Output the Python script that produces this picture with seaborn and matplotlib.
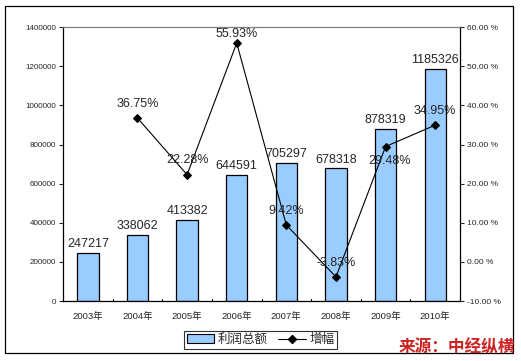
import numpy as np
import pandas as pd
import matplotlib
matplotlib.use('Agg')
import matplotlib.pyplot as plt
import seaborn as sns
from matplotlib.lines import Line2D
from matplotlib.patches import Patch, Rectangle

years = ['2003年', '2004年', '2005年', '2006年', '2007年', '2008年', '2009年', '2010年']
profit = [247217, 338062, 413382, 644591, 705297, 678318, 878319, 1185326]
growth = [np.nan, 36.75, 22.28, 55.93, 9.42, -3.83, 29.48, 34.95]
growth_labels = ['', '36.75%', '22.28%', '55.93%', '9.42%', '-3.83%', '29.48%', '34.95%']
# label above (+1) or below (-1) the point
label_side = [0, 1, 1, 1, 1, 1, -1, 1]

sns.set_style('white')
plt.rcParams['font.family'] = ['Liberation Sans', 'Noto Sans CJK SC', 'DejaVu Sans']

df = pd.DataFrame({'year': years, 'profit': profit, 'growth': growth})
df['pos'] = np.arange(len(df))

fig = plt.figure(figsize=(5.21, 3.61), dpi=100)
ax = fig.add_axes([0.121, 0.166, 0.762, 0.759])

sns.barplot(data=df, x='year', y='profit', color='#99CCFF', saturation=1,
            edgecolor='black', linewidth=0.9, width=0.43, ax=ax)
ax.set_ylim(0, 1400000)
ax.set_yticks(np.arange(0, 1400001, 200000))
ax.set_yticklabels([str(v) for v in np.arange(0, 1400001, 200000)], fontsize=5.8)
ax.set_xticklabels(years, fontsize=6.8)
ax.set_xlim(-0.5, len(df) - 0.5)
ax.set_xlabel('')
ax.set_ylabel('')
ax.tick_params(axis='y', length=3, width=0.8, pad=2, direction='out', left=True)
ax.tick_params(axis='x', length=0, pad=8)
for k in range(1, len(df)):
    ax.plot([k - 0.5, k - 0.5], [0, 12000], color='black', lw=0.8)
for s in ['left', 'bottom', 'right']:
    ax.spines[s].set_color('black')
    ax.spines[s].set_linewidth(0.9)
ax.spines['top'].set_color('#808080')
ax.spines['top'].set_linewidth(0.9)

for i, v in enumerate(profit):
    ax.annotate(str(v), (i, v), xytext=(0, 2), textcoords='offset points',
                ha='center', va='bottom', fontsize=9)

ax2 = ax.twinx()
sns.lineplot(data=df, x='pos', y='growth', color='black', lw=0.8, marker='D',
             markersize=4, markeredgecolor='black', ax=ax2)
ax2.set_ylim(-10, 60)
ax2.set_xlim(-0.5, len(df) - 0.5)
ax2.set_yticks(np.arange(-10, 61, 10))
ax2.set_yticklabels(['%.2f %%' % v for v in np.arange(-10, 61, 10)], fontsize=6)
ax2.set_ylabel('')
ax2.set_xlabel('')
ax2.tick_params(axis='y', length=3, width=0.8, pad=2, direction='out', right=True)
for s in ax2.spines.values():
    s.set_visible(False)

for i, (g, lab, side) in enumerate(zip(growth, growth_labels, label_side)):
    if not lab:
        continue
    if side > 0:
        off = 6 if g < 50 else 2
        ax2.annotate(lab, (i, g), xytext=(0, off), textcoords='offset points',
                     ha='center', va='bottom', fontsize=9)
    else:
        ax2.annotate(lab, (i, g), xytext=(3, -6), textcoords='offset points',
                     ha='center', va='top', fontsize=9)

handles = [Patch(facecolor='#99CCFF', edgecolor='black', linewidth=0.8),
           Line2D([0], [0], color='black', lw=0.8, marker='D', markersize=4)]
leg = fig.legend(handles, ['利润总额', '增幅'], loc='center', ncol=2,
                 bbox_to_anchor=(0.5, 0.058), fontsize=9, frameon=True,
                 fancybox=False, edgecolor='black', handlelength=2.2,
                 borderpad=0.2, columnspacing=0.8, handletextpad=0.3)
leg.get_frame().set_linewidth(0.8)

fig.patches.append(Rectangle((0.01, 0.022), 0.975, 0.96, transform=fig.transFigure,
                             fill=False, edgecolor='black', linewidth=0.9))

fig.text(0.988, 0.012, '来源：中经纵横', ha='right', va='bottom', fontsize=12,
         color='#CC2222', fontweight='bold', style='italic',
         family=['Noto Sans CJK SC', 'DejaVu Sans'])

fig.savefig('out.png', dpi=100)
